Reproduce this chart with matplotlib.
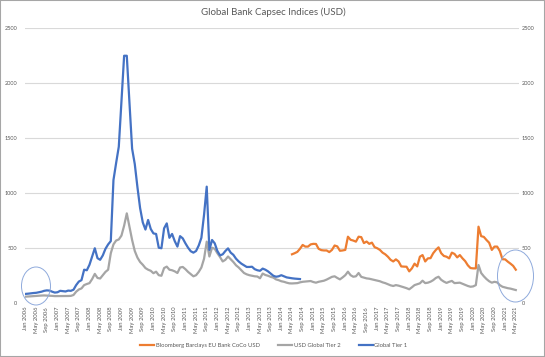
import matplotlib
matplotlib.use("Agg")
import matplotlib.pyplot as plt
from matplotlib.patches import Ellipse, Rectangle
import numpy as np

# ---------------- data (monthly, Jan 2006 .. May 2021) ----------------
months = ["Jan", "Feb", "Mar", "Apr", "May", "Jun", "Jul", "Aug", "Sep", "Oct", "Nov", "Dec"]
dates = [f"{months[i % 12]} {2006 + i // 12}" for i in range(185)]

gray_tier2 = [
    55, 56, 58, 60, 62, 63, 65, 66, 65, 64, 62, 60, 60, 61, 60, 60, 61, 62,
    70, 100, 120, 130, 160, 170, 178, 215, 262, 225, 220, 250, 280, 300,
    450, 530, 565, 575, 610, 700, 812, 690, 570, 470, 410, 370, 345, 315,
    300, 290, 268, 282, 250, 245, 315, 328, 300, 295, 285, 270, 320, 325,
    305, 280, 260, 240, 250, 280, 320, 400, 555, 420, 500, 490, 450, 415,
    375, 390, 420, 395, 370, 340, 320, 295, 270, 258, 250, 245, 240, 238,
    222, 265, 252, 245, 235, 228, 212, 205, 195, 190, 182, 176, 175, 176,
    178, 185, 190, 192, 195, 197, 188, 182, 190, 195, 200, 210, 222, 235,
    240, 225, 212, 230, 250, 282, 250, 236, 240, 270, 235, 228, 221, 218,
    212, 205, 200, 195, 185, 178, 168, 158, 152, 160, 155, 148, 140, 132,
    122, 140, 160, 168, 176, 200, 178, 182, 191, 205, 225, 236, 208, 192,
    180, 190, 198, 178, 180, 182, 172, 163, 152, 145, 148, 160, 343, 270,
    240, 215, 195, 182, 190, 185, 160, 145, 138, 132, 128, 122, 115,
]

blue_tier1 = [
    80, 82, 85, 88, 90, 95, 100, 108, 112, 110, 100, 92, 95, 108, 105, 102,
    110, 108, 118, 160, 192, 205, 300, 295, 345, 420, 495, 405, 390, 430,
    490, 530, 560, 1115, 1270, 1418, 1830, 2245, 2245, 1820, 1400, 1260,
    1050, 860, 730, 665, 752, 670, 630, 625, 500, 495, 676, 721, 590, 625,
    560, 510, 605, 585, 540, 500, 468, 455, 470, 520, 590, 800, 1055, 480,
    570, 540, 470, 430, 440, 470, 494, 455, 435, 400, 375, 355, 340, 325,
    325, 327, 305, 295, 290, 310, 300, 285, 265, 245, 236, 240, 250, 240,
    230, 226, 222, 219, 217, 215,
]

orange_start = 100
orange_coco = [
    440, 450, 462, 490, 525, 510, 510, 530, 535, 534, 490, 478, 475, 475,
    460, 480, 520, 512, 472, 475, 480, 600, 572, 565, 555, 600, 596, 542,
    556, 535, 546, 505, 495, 480, 455, 440, 418, 390, 375, 394, 375, 330,
    328, 327, 285, 312, 355, 330, 418, 433, 375, 403, 405, 450, 480, 503,
    450, 425, 418, 403, 455, 443, 412, 433, 403, 378, 340, 315, 312, 312,
    691, 605, 598, 570, 545, 480, 510, 510, 470, 395, 394, 373, 355, 335, 300,
]

series_names = ["Bloomberg Barclays EU Bank CoCo USD", "USD Global Tier 2", "Global Tier 1"]
y_ticks = [0, 500, 1000, 1500, 2000, 2500]
title = "Global Bank Capsec Indices (USD)"

# ---------------- plot ----------------
W, H = 545, 357
fig = plt.figure(figsize=(W / 100, H / 100), dpi=100)
FONT = "Lato"
TXT = "#595959"

ax = fig.add_axes([25 / W, 1 - 302.7 / H, (519 - 25) / W, (302.7 - 27.7) / H])

x_all = np.arange(len(dates))
x_blue = np.arange(len(blue_tier1))
x_orange = np.arange(orange_start, orange_start + len(orange_coco))

LW = 1.6
l_or, = ax.plot(x_orange, orange_coco, color="#ED7D31", lw=LW, solid_joinstyle="round", zorder=3)
l_gr, = ax.plot(x_all, gray_tier2, color="#A5A5A5", lw=LW, solid_joinstyle="round", zorder=3)
l_bl, = ax.plot(x_blue, blue_tier1, color="#4472C4", lw=LW, solid_joinstyle="round", zorder=4)

ax.set_xlim(-0.2, 185.2)
ax.set_ylim(0, 2500)
ax.set_yticks(y_ticks)
ax.set_yticklabels([str(v) for v in y_ticks])
ax.yaxis.grid(True, color="#D9D9D9", lw=0.8)
ax.set_axisbelow(True)
for s in ax.spines.values():
    s.set_visible(False)
ax.tick_params(axis="y", length=0, labelsize=4, labelcolor=TXT, pad=5.5)
for lab in ax.get_yticklabels():
    lab.set_family(FONT)

# secondary (right) value axis with the same scale
ax2 = ax.twinx()
ax2.set_ylim(0, 2500)
ax2.set_yticks(y_ticks)
ax2.set_yticklabels([str(v) for v in y_ticks])
for s in ax2.spines.values():
    s.set_visible(False)
ax2.tick_params(axis="y", length=0, labelsize=4, labelcolor=TXT, pad=2)
for lab in ax2.get_yticklabels():
    lab.set_family(FONT)

tick_pos = list(range(0, len(dates), 4))
ax.set_xticks(tick_pos)
ax.set_xticklabels([dates[i] for i in tick_pos], rotation=90, fontsize=4.2,
                   color=TXT, family=FONT)
ax.tick_params(axis="x", length=0, pad=3)

fig.text(273 / W, 1 - 12.7 / H, title, ha="center", va="center",
         fontsize=7, color=TXT, family=FONT)

leg = fig.legend([l_or, l_gr, l_bl], series_names, loc="center",
                 bbox_to_anchor=(274 / W, 1 - 345 / H), ncol=3, frameon=False,
                 prop={"family": FONT, "size": 4.2}, handlelength=2.4,
                 columnspacing=3.1, handletextpad=0.3)
for t in leg.get_texts():
    t.set_color(TXT)

# annotation ellipses (pixel coordinates from top-left)
def px_ellipse(cx, cy, w, h):
    e = Ellipse((cx / W, 1 - cy / H), w / W, h / H, transform=fig.transFigure,
                fill=False, edgecolor="#8FAADC", lw=0.7, zorder=10)
    fig.add_artist(e)

px_ellipse(36, 286, 29, 38)
px_ellipse(515.5, 276, 36, 52)

fig.add_artist(Rectangle((0, 0), 1, 1, transform=fig.transFigure, fill=False,
                         edgecolor="#A6A6A6", lw=1.5))

fig.savefig("out.png", dpi=100)
